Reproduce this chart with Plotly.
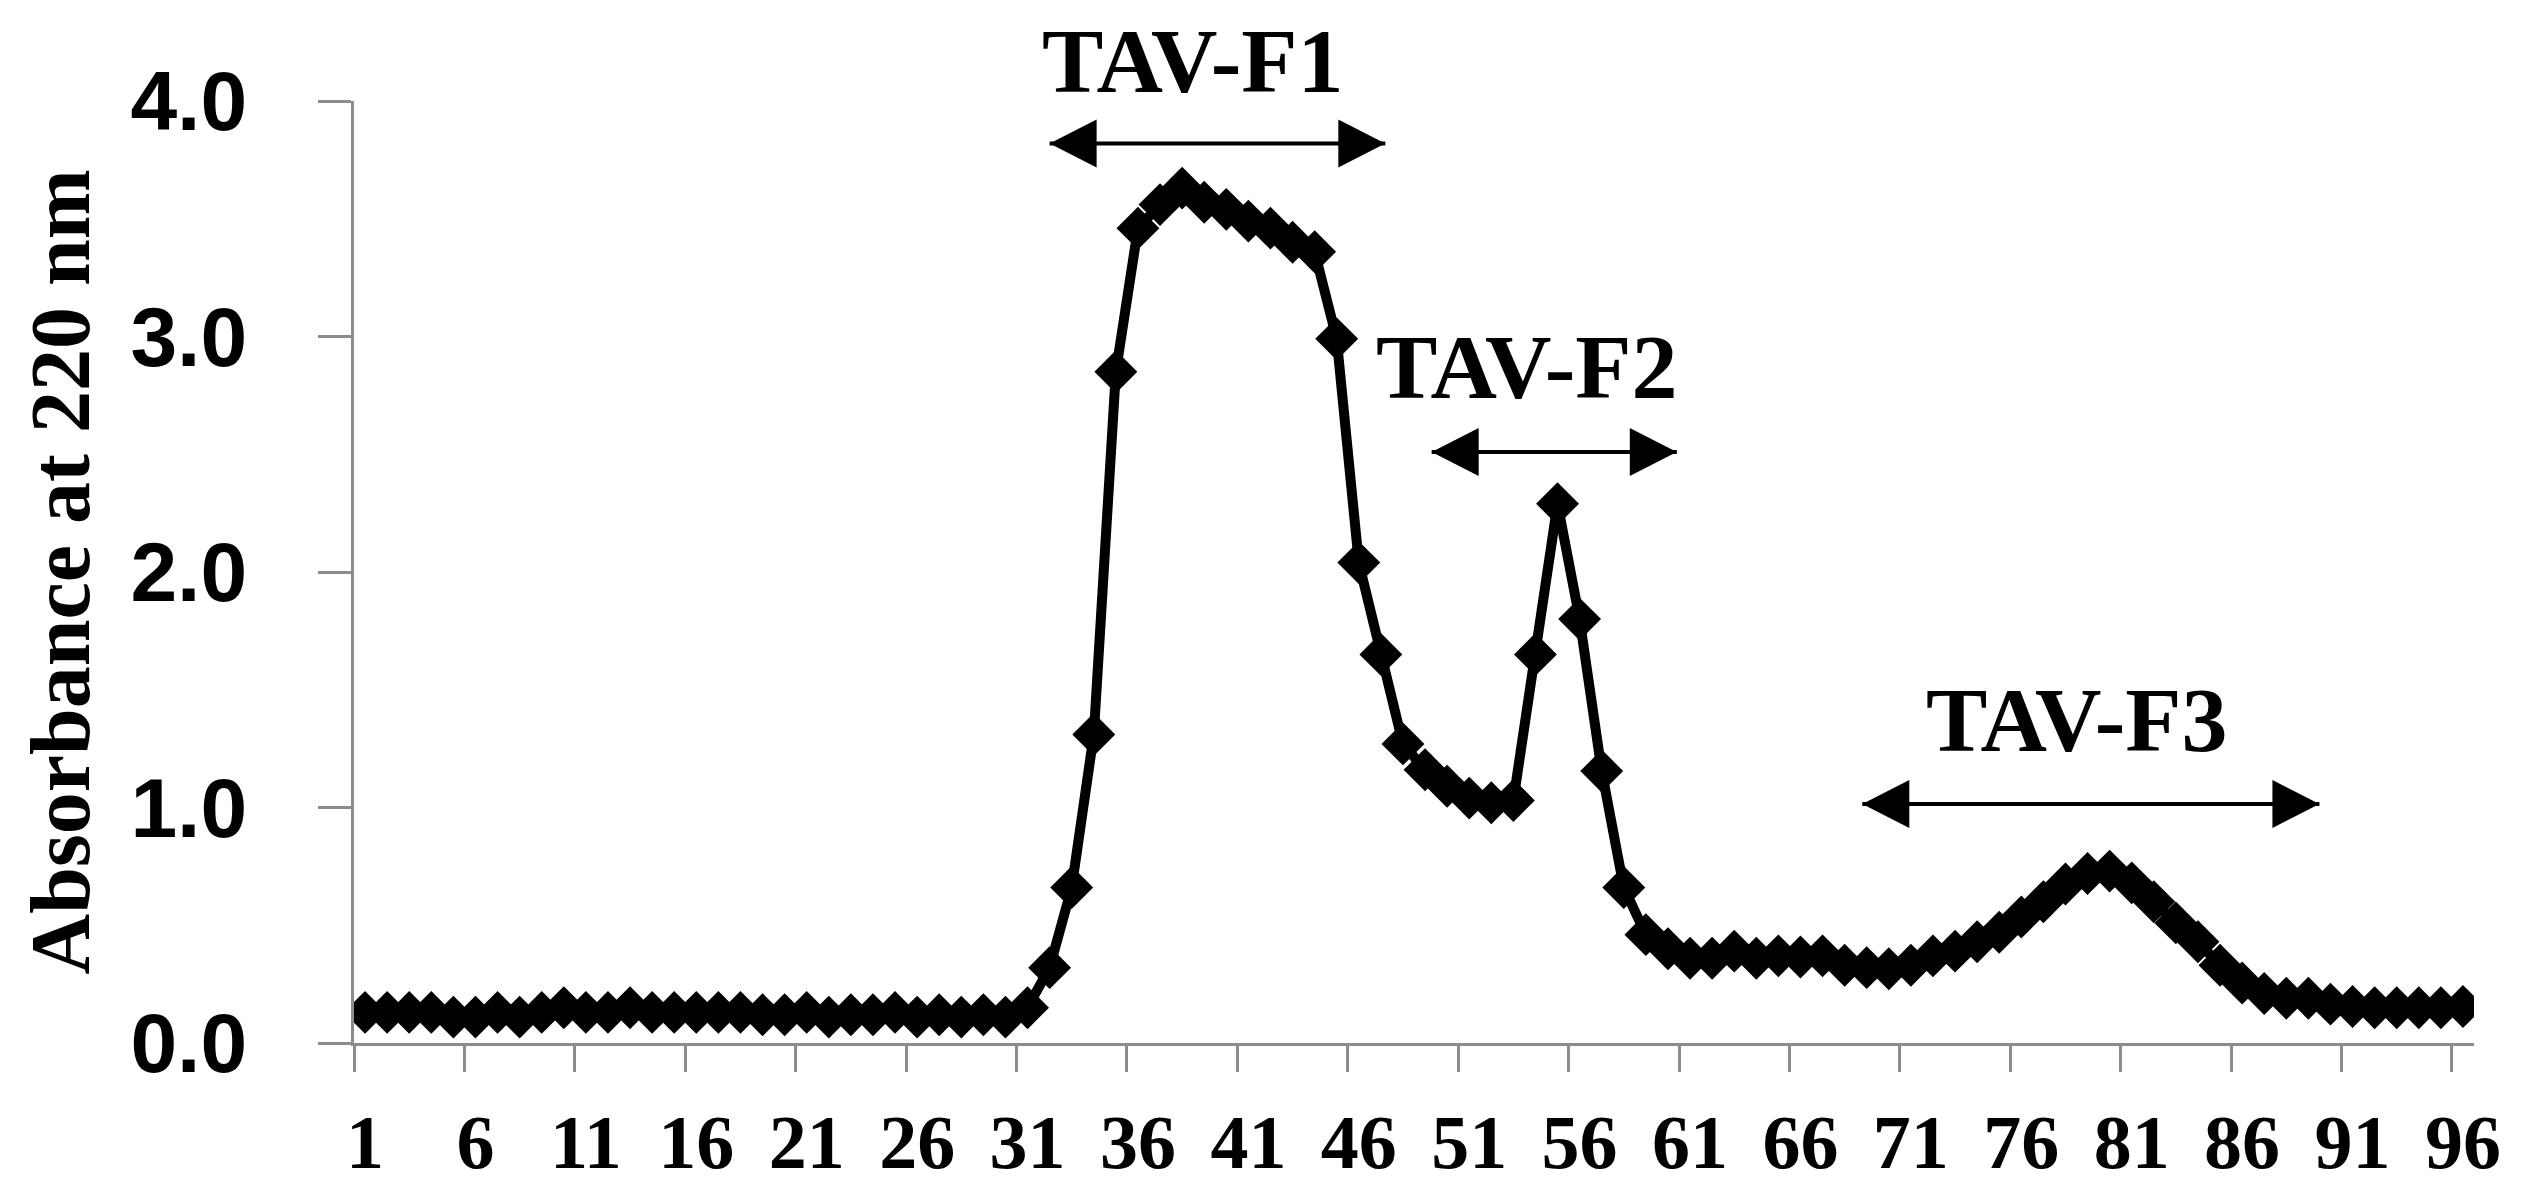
import plotly.graph_objects as go

# fraction number vs absorbance at 220 nm
fractions = list(range(1, 97))
absorbance = [
    0.13, 0.13, 0.13, 0.13, 0.11, 0.11, 0.13, 0.11, 0.13, 0.15,
    0.13, 0.13, 0.15, 0.13, 0.13, 0.13, 0.13, 0.13, 0.12, 0.12,
    0.13, 0.11, 0.12, 0.12, 0.13, 0.11, 0.12, 0.11, 0.12, 0.11,
    0.15, 0.32, 0.66, 1.31, 2.85, 3.46, 3.56, 3.63, 3.57, 3.54,
    3.49, 3.46, 3.40, 3.36, 2.99, 2.04, 1.65, 1.27, 1.16, 1.09,
    1.04, 1.02, 1.03, 1.65, 2.29, 1.80, 1.155, 0.66, 0.46, 0.40,
    0.36, 0.36, 0.39, 0.36, 0.37, 0.365, 0.37, 0.33, 0.32, 0.315,
    0.33, 0.37, 0.39, 0.43, 0.47, 0.535, 0.60, 0.675, 0.72, 0.73,
    0.68, 0.60, 0.51, 0.43, 0.33, 0.255, 0.21, 0.19, 0.19, 0.165,
    0.155, 0.15, 0.15, 0.15, 0.15, 0.155,
]

x_tick_vals = list(range(1, 97, 5))
x_tick_text = [str(v) for v in x_tick_vals]
y_tick_vals = [0, 1, 2, 3, 4]
y_max = 4

# pooled fractions (arrow tips, arrow height, label position)
pool_names = ["TAV-F1", "TAV-F2", "TAV-F3"]
pool_start = [32.0, 49.3, 68.8]
pool_end = [47.2, 60.4, 89.5]
pool_arrow_y = [3.82, 2.51, 1.015]
pool_label_x = [38.5, 53.6, 78.5]
pool_label_y = [4.17, 2.87, 1.37]

grey = "#8c8c8c"
serif = "Liberation Serif, Times New Roman, serif"
sans = "Liberation Sans, Arial, sans-serif"

fig = go.Figure()

fig.add_trace(
    go.Scatter(
        x=fractions,
        y=absorbance,
        mode="lines+markers",
        line=dict(color="black", width=10),
        marker=dict(symbol="diamond", size=33, color="black"),
        showlegend=False,
        hoverinfo="skip",
    )
)

head_len = 47
head_half = 24
for name, x0, x1, ya, lx, ly in zip(pool_names, pool_start, pool_end,
                                     pool_arrow_y, pool_label_x, pool_label_y):
    fig.add_shape(
        type="line", x0=x0, x1=x1, y0=ya, y1=ya, xref="x", yref="y",
        line=dict(color="black", width=4),
    )
    # arrow heads sized in pixels, anchored at the tips
    fig.add_shape(
        type="path", xref="x", yref="y",
        xsizemode="pixel", ysizemode="pixel", xanchor=x0, yanchor=ya,
        path=f"M0,0 L{head_len},{head_half} L{head_len},-{head_half} Z",
        fillcolor="black", line=dict(width=0),
    )
    fig.add_shape(
        type="path", xref="x", yref="y",
        xsizemode="pixel", ysizemode="pixel", xanchor=x1, yanchor=ya,
        path=f"M0,0 L-{head_len},{head_half} L-{head_len},-{head_half} Z",
        fillcolor="black", line=dict(width=0),
    )
    # paper y so the top label above the axis range is still drawn
    fig.add_annotation(
        x=lx, y=ly / y_max, xref="x", yref="paper", text=name, showarrow=False,
        xanchor="center", yanchor="middle",
        font=dict(family=serif, size=92, color="black", weight="bold"),
    )

# y axis title
fig.add_annotation(
    x=-0.1385, y=0.5, xref="paper", yref="paper",
    text="Absorbance at 220 nm", textangle=-90, showarrow=False,
    xanchor="center", yanchor="middle",
    font=dict(family=serif, size=84, color="black", weight="bold"),
)

fig.update_xaxes(
    range=[0.5, 96.5],
    tickmode="array",
    tickvals=x_tick_vals,
    ticktext=x_tick_text,
    ticks="",
    ticklabelstandoff=31,
    tickfont=dict(family=serif, size=76, color="black", weight="bold"),
    showline=True, linecolor=grey, linewidth=3,
    showgrid=False, zeroline=False, automargin=False,
    minor=dict(ticks="outside", tick0=0.5, dtick=5, ticklen=26,
               tickwidth=3, tickcolor=grey, showgrid=False),
)

fig.update_yaxes(
    range=[0, y_max],
    tickmode="array",
    tickvals=y_tick_vals,
    tickformat=".1f",
    ticks="outside", ticklen=33, tickwidth=3, tickcolor=grey,
    ticklabelstandoff=54,
    tickfont=dict(family=sans, size=84, color="black", weight="bold"),
    showline=True, linecolor=grey, linewidth=3,
    showgrid=False, zeroline=False, automargin=False,
)

# page body adds an 8px margin, so the figure is 16px smaller than the window
fig.update_layout(
    width=2505,
    height=1182,
    margin=dict(l=346, r=39, t=93, b=147),
    paper_bgcolor="white",
    plot_bgcolor="white",
)

fig.write_html("out.html")
